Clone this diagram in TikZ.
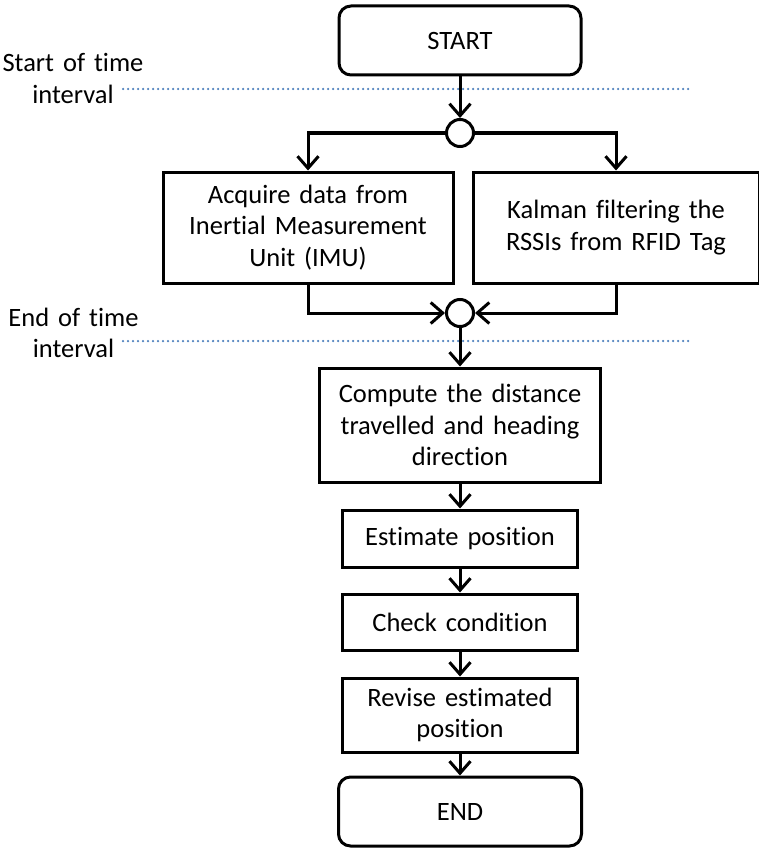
\documentclass[tikz,border=0pt]{standalone}
\usepackage{fontspec}
\setmainfont{Carlito}[Ligatures=NoCommon, WordSpace=1.5]
\usetikzlibrary{arrows.meta}
\definecolor{dotblue}{RGB}{79,129,189}
\begin{document}
\begin{tikzpicture}[x=1pt,y=-1pt,
  every node/.style={font=\fontsize{26.5}{31.5}\selectfont},
  box/.style={draw, line width=3pt, inner sep=0pt, align=center, fill=white},
  term/.style={box, rounded corners=12pt},
  junc/.style={draw, circle, line width=3pt, minimum size=27pt, inner sep=0pt, fill=white},
  lbl/.style={align=center, inner sep=0pt},
  conn/.style={line width=3pt},
  arr/.style={conn, -{Straight Barb[length=12pt,width=21pt]}},
  tline/.style={draw=dotblue, line width=2.5pt, dash pattern=on 0pt off 5pt, line cap=round}
]
\useasboundingbox (0,0) rectangle (759,848);
% time interval markers
\node[lbl] (sl) at (73,78.5) {Start of time\\interval};
\node[lbl] (el) at (73.5,333) {End of time\\interval};
\coordinate (s0) at (123,89);
\coordinate (s1) at (692,89);
\coordinate (e0) at (123,341);
\coordinate (e1) at (692,341);
\draw[tline] (s0) -- (s1);
\draw[tline] (e0) -- (e1);
% nodes
\node[term, minimum width=242pt, minimum height=69pt] (start) at (460,40.5) {START};
\node[junc] (c1) at (460,133) {};
\node[box, minimum width=290pt, minimum height=111pt] (acq) at (308,227.5) {Acquire data from\\Inertial Measurement\\Unit (IMU)};
\node[box, minimum width=286pt, minimum height=111pt] (kal) at (616,227.5) {Kalman filtering the\\RSSIs from RFID Tag};
\node[junc] (c2) at (460,313) {};
\node[box, minimum width=281pt, minimum height=114pt] (comp) at (460,425) {Compute the distance\\travelled and heading\\direction};
\node[box, minimum width=235pt, minimum height=57pt] (est) at (460,538.5) {Estimate position};
\node[box, minimum width=235pt, minimum height=56pt] (chk) at (460,622) {Check condition};
\node[box, minimum width=235pt, minimum height=74pt] (rev) at (460,715) {Revise estimated\\position};
\node[term, minimum width=243pt, minimum height=69pt] (end) at (460,811.5) {END};
% connectors
\draw[arr] (start) -- (c1);
\draw[arr] (c1.west) -| (acq.north);
\draw[arr] (c1.east) -| (kal.north);
\draw[arr] (acq.south) |- (c2.west);
\draw[arr] (kal.south) |- (c2.east);
\draw[arr] (c2) -- (comp);
\draw[arr] (comp) -- (est);
\draw[arr] (est) -- (chk);
\draw[arr] (chk) -- (rev);
\draw[arr] (rev) -- (end);
\end{tikzpicture}
\end{document}
